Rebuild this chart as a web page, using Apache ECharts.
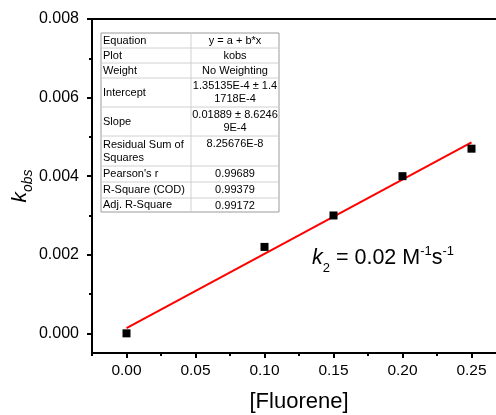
<!DOCTYPE html>
<html>
<head>
<meta charset="utf-8">
<script src="https://cdn.jsdelivr.net/npm/echarts@6/dist/echarts.min.js"></script>
<style>
  html, body { margin: 0; padding: 0; background: #fff; }
  #chart { width: 496px; height: 415px; }
</style>
</head>
<body>
<div id="chart"></div>
<script>
// measured points
var fluorene = [0.00, 0.10, 0.15, 0.20, 0.25];
var kobs = [0.0000, 0.0022, 0.0030, 0.0040, 0.0047];
// linear fit
var fitX = [0.00, 0.25];
var fitY = [0.000135, 0.00486];
// tick positions
var xMajor = [0.00, 0.05, 0.10, 0.15, 0.20, 0.25];
var xMinor = [-0.025, 0.025, 0.075, 0.125, 0.175, 0.225, 0.275];
var yMajor = [0.000, 0.002, 0.004, 0.006, 0.008];
var yMinor = [0.001, 0.003, 0.005, 0.007];
// fit report table
var tableKeys = ['Equation', 'Plot', 'Weight', 'Intercept', 'Slope', 'Residual Sum of\nSquares', "Pearson's r", 'R-Square (COD)', 'Adj. R-Square'];
var tableVals = ['y = a + b*x', 'kobs', 'No Weighting', '1.35135E-4 ± 1.4\n1718E-4', '0.01889 ± 8.6246\n9E-4', '8.25676E-8', '0.99689', '0.99379', '0.99172'];
var rowEdges = [33, 48, 63, 78, 107, 136, 166, 182, 198, 212];

var font = 'Liberation Sans, Arial, sans-serif';
var chart = echarts.init(document.getElementById('chart'));

var pts = fluorene.map(function (x, i) { return [x, kobs[i]]; });
var fit = fitX.map(function (x, i) { return [x, fitY[i]]; });

// table drawn as graphic elements
var tbl = [];
var tx0 = 101, tx1 = 279, tmid = 191;
tbl.push({ type: 'rect', shape: { x: tx0, y: rowEdges[0], width: tx1 - tx0, height: rowEdges[rowEdges.length - 1] - rowEdges[0] },
  style: { fill: '#fff', stroke: '#9a9a9a', lineWidth: 1 }, z: 10 });
tbl.push({ type: 'line', shape: { x1: tmid, y1: rowEdges[0], x2: tmid, y2: rowEdges[rowEdges.length - 1] },
  style: { stroke: '#d0d0d0', lineWidth: 1 }, z: 11 });
for (var r = 1; r < rowEdges.length - 1; r++) {
  tbl.push({ type: 'line', shape: { x1: tx0, y1: rowEdges[r], x2: tx1, y2: rowEdges[r] },
    style: { stroke: '#d0d0d0', lineWidth: 1 }, z: 11 });
}
for (var i = 0; i < tableKeys.length; i++) {
  var yc = (rowEdges[i] + rowEdges[i + 1]) / 2;
  tbl.push({ type: 'text', x: tx0 + 2, y: yc, z: 12,
    style: { text: tableKeys[i], font: '11px ' + font, fill: '#000', verticalAlign: 'middle', lineHeight: 13 } });
  var twoLine = tableVals[i].indexOf('\n') >= 0;
  tbl.push({ type: 'text', x: (tmid + tx1) / 2, y: twoLine ? yc : rowEdges[i] + 1, z: 12,
    style: { text: tableVals[i], font: '11px ' + font, fill: '#000', align: 'center',
      verticalAlign: twoLine ? 'middle' : 'top', lineHeight: 13 } });
}
tbl.push({ type: 'text', x: 312, y: 258, z: 12,
  style: {
    text: '{k|k}{sub|2}{n| = 0.02 M}{sup|-1}{n|s}{sup|-1}',
    verticalAlign: 'middle',
    rich: {
      k: { font: 'italic 21.5px ' + font, fill: '#000', lineHeight: 26 },
      n: { font: '21.5px ' + font, fill: '#000', lineHeight: 26 },
      sub: { font: '13px ' + font, fill: '#000', lineHeight: 26, verticalAlign: 'bottom', padding: [0, 0, -4, 0] },
      sup: { font: '13px ' + font, fill: '#000', lineHeight: 26, verticalAlign: 'top' }
    }
  } });

var xRange = { min: -0.025, max: 0.275 };
var yRange = { min: -0.0005, max: 0.008 };

chart.setOption({
  backgroundColor: '#fff',
  animation: false,
  grid: { left: 92, top: 19, right: -10, bottom: 62, show: true, borderColor: '#000', borderWidth: 2,
    outerBoundsMode: 'none', containLabel: false },
  xAxis: [{
    type: 'value', min: xRange.min, max: xRange.max, position: 'bottom',
    name: '[Fluorene]', nameLocation: 'middle', nameGap: 38, nameMoveOverlap: false,
    nameTextStyle: { fontFamily: font, fontSize: 22, color: '#000' },
    axisLine: { onZero: false, lineStyle: { color: '#000', width: 2 } },
    axisTick: { show: true, inside: false, length: 5, customValues: xMajor, lineStyle: { color: '#000', width: 2 } },
    splitLine: { show: false },
    axisLabel: {
      customValues: xMajor,
      fontFamily: font, fontSize: 15.5, color: '#000', margin: 10,
      formatter: function (v) { return v.toFixed(2); }
    }
  }, {
    type: 'value', min: xRange.min, max: xRange.max, position: 'bottom', offset: 0,
    axisLine: { show: false, onZero: false },
    axisTick: { show: true, inside: false, length: 3, customValues: xMinor, lineStyle: { color: '#000', width: 2 } },
    axisLabel: { show: false },
    splitLine: { show: false }
  }],
  yAxis: [{
    type: 'value', min: yRange.min, max: yRange.max, position: 'left',
    name: '{k|k}{s|obs}', nameLocation: 'middle', nameGap: 60, nameRotate: 90, nameMoveOverlap: false,
    nameTextStyle: {
      rich: {
        k: { fontFamily: font, fontStyle: 'italic', fontSize: 21, color: '#000', lineHeight: 24 },
        s: { fontFamily: font, fontStyle: 'italic', fontSize: 14, color: '#000', lineHeight: 24, verticalAlign: 'bottom', padding: [0, 0, -3, 0] }
      }
    },
    axisLine: { onZero: false, lineStyle: { color: '#000', width: 2 } },
    axisTick: { show: true, inside: false, length: 5, customValues: yMajor, lineStyle: { color: '#000', width: 2 } },
    splitLine: { show: false },
    axisLabel: {
      customValues: yMajor,
      fontFamily: font, fontSize: 16, color: '#000', margin: 13,
      formatter: function (v) { return v.toFixed(3); }
    }
  }, {
    type: 'value', min: yRange.min, max: yRange.max, position: 'left', offset: 0,
    axisLine: { show: false, onZero: false },
    axisTick: { show: true, inside: false, length: 3, customValues: yMinor, lineStyle: { color: '#000', width: 2 } },
    axisLabel: { show: false },
    splitLine: { show: false }
  }],
  series: [
    {
      type: 'line', data: fit, showSymbol: false, symbol: 'none',
      lineStyle: { color: '#ff0000', width: 2 }, z: 2
    },
    {
      type: 'scatter', data: pts, symbol: 'rect', symbolSize: 8,
      itemStyle: { color: '#000', opacity: 1 }, z: 3
    }
  ],
  graphic: tbl
});
</script>
</body>
</html>
